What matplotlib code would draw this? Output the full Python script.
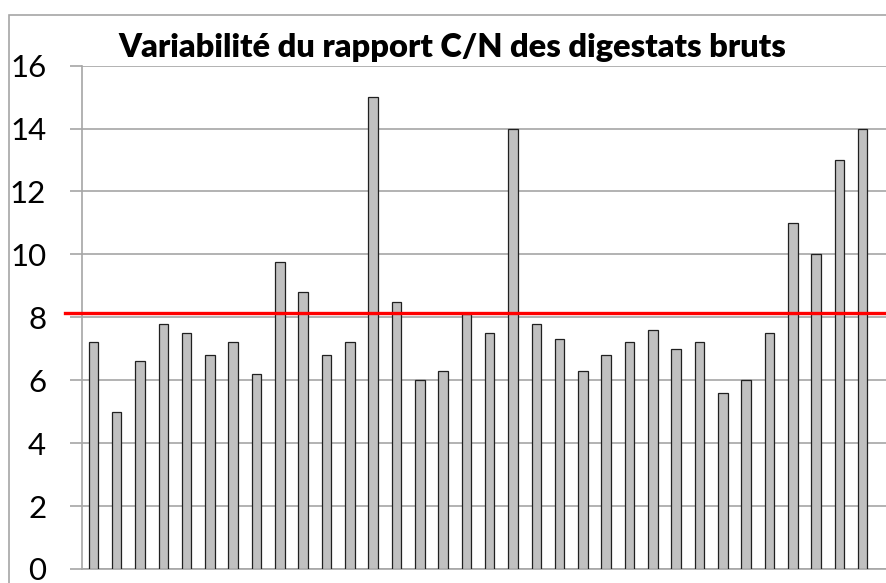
import matplotlib.pyplot as plt
import matplotlib.patches as mpatches
import numpy as np

# C/N ratio of raw digestates, one bar per sample
cn_values = [7.2, 5.0, 6.6, 7.8, 7.5, 6.8, 7.2, 6.2, 9.75, 8.8,
             6.8, 7.2, 15.0, 8.5, 6.0, 6.3, 8.1, 7.5, 14.0, 7.8,
             7.3, 6.3, 6.8, 7.2, 7.6, 7.0, 7.2, 5.6, 6.0, 7.5,
             11.0, 10.0, 13.0, 14.0]
mean_line = 8.15
y_ticks = [0, 2, 4, 6, 8, 10, 12, 14, 16]
title = "Variabilité du rapport C/N des digestats bruts"

W, H = 886, 583
fig = plt.figure(figsize=(W / 100, H / 100), dpi=100)

# outer chart frame (cropped on the right and bottom)
fig.patches.append(mpatches.Rectangle((9.3 / W, -0.1), 1.2, 1 - 14.7 / H + 0.1,
                                      transform=fig.transFigure, fill=False,
                                      edgecolor="#a6a6a6", lw=1.2))

left, right = 81.7 / W, 1.0
bottom, top = 1 - 569 / H, 1 - 65.6 / H
ax = fig.add_axes([left, bottom, right - left, top - bottom])

x = np.arange(len(cn_values))
ax.bar(x, cn_values, width=0.41, color="#c0c0c0", edgecolor="#202020",
       linewidth=0.9, zorder=3)

ax.set_xlim(-0.5, 34.0)
ax.set_ylim(0, 16)
ax.set_yticks(y_ticks)
ax.set_xticks([])
ax.yaxis.grid(True, color="#a6a6a6", lw=1.2, zorder=0)
ax.set_axisbelow(True)
for s in ["top", "right"]:
    ax.spines[s].set_visible(False)
for s in ["left", "bottom"]:
    ax.spines[s].set_color("#a6a6a6")
    ax.spines[s].set_linewidth(1.2)
ax.tick_params(axis="y", length=8.5, width=1.2, color="#a6a6a6", pad=17)
for lab in ax.get_yticklabels():
    lab.set_family(["Lato", "DejaVu Sans"])
    lab.set_fontsize(22.5)

ax.axhline(mean_line, xmin=-(81.7 - 65) / (W - 81.7), xmax=1, color="#ff0000",
           lw=2.4, zorder=4, clip_on=False)

fig.text(452 / W, 1 - 57.3 / H, title, ha="center", va="baseline",
         fontsize=23.4, fontweight="heavy", family=["Lato", "DejaVu Sans"])

fig.savefig("out.png", dpi=100)
